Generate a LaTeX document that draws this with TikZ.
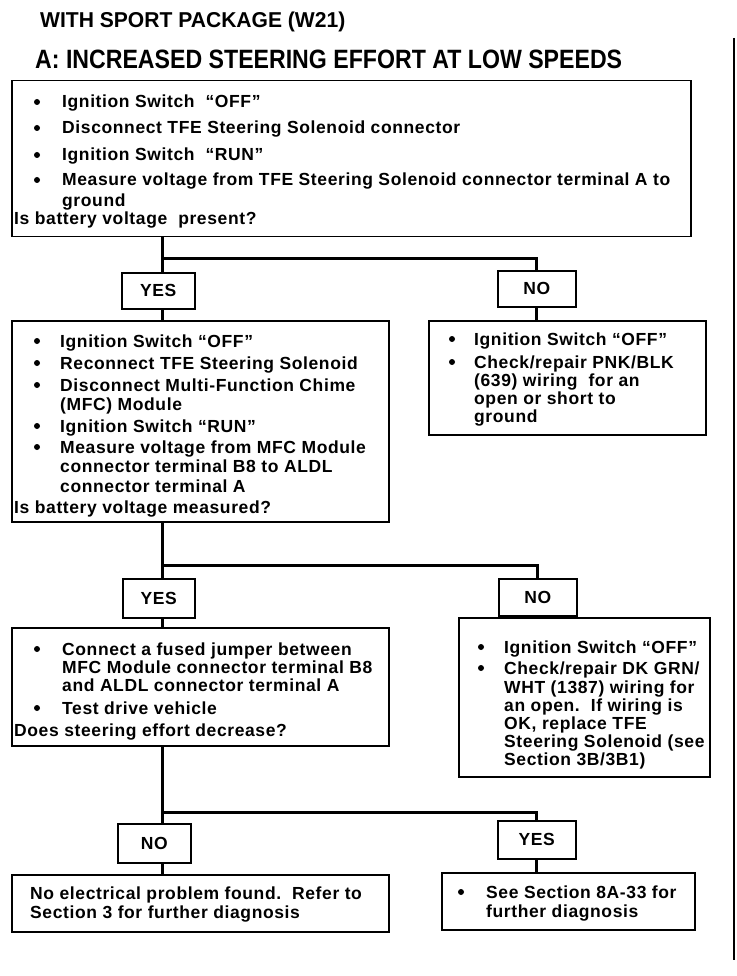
\documentclass[tikz,border=0pt]{standalone}
\usepackage{fontspec}
\setmainfont{Liberation Sans}
\newfontfamily\bodyfam[LetterSpace=3.5]{Liberation Sans}
\newcommand\bodyf{\bodyfam\bfseries\fontsize{17.5}{20}\selectfont}
\newcommand\titlef{\bfseries\fontsize{21.5}{24}\selectfont}
\newcommand\titlefb{\bfseries\fontsize{26.5}{28}\selectfont}
\tikzset{
  box/.style={draw, line width=1.5pt, inner sep=0pt, anchor=north west},
  lbl/.style={draw, line width=1.5pt, inner sep=0pt, anchor=north west, font=\bodyf},
  tx/.style={anchor=base west, inner sep=0pt, font=\bodyf},
  bul/.style={circle, fill, inner sep=0pt, minimum size=6pt},
  conn/.style={line width=3pt},
}
\begin{document}
\begin{tikzpicture}[x=1pt,y=-1pt]
\useasboundingbox (0,0) rectangle (736,976);
% titles
\node[anchor=base west, inner sep=0pt, font=\titlef] (t1) at (40,28) {\scalebox{0.98}[1]{WITH SPORT PACKAGE (W21)}};
\node[anchor=base west, inner sep=0pt, font=\titlefb] (t2) at (35,69) {\scalebox{0.873}[1]{A: INCREASED STEERING EFFORT AT LOW SPEEDS}};
% boxes
\node[box, minimum width=679pt, minimum height=156pt] (b1) at (11,80) {};
\node[lbl, minimum width=73pt, minimum height=36pt] (yes1) at (121,272) {YES};
\node[lbl, minimum width=78pt, minimum height=36pt] (no1) at (497,270) {NO};
\node[box, minimum width=377pt, minimum height=201pt] (b2) at (11,320) {};
\node[box, minimum width=277pt, minimum height=114pt] (b3) at (428,320) {};
\node[lbl, minimum width=72pt, minimum height=39pt] (yes2) at (122,578) {YES};
\node[lbl, minimum width=78pt, minimum height=37pt] (no2) at (498,578) {NO};
\node[box, minimum width=377pt, minimum height=118pt] (b4) at (11,627) {};
\node[box, minimum width=251pt, minimum height=159pt] (b5) at (458,617) {};
\node[lbl, minimum width=73pt, minimum height=39pt] (no3) at (117,823) {NO};
\node[lbl, minimum width=78pt, minimum height=38pt] (yes3) at (497,820) {YES};
\node[box, minimum width=377pt, minimum height=57pt] (b6) at (11,874) {};
\node[box, minimum width=253pt, minimum height=57pt] (b7) at (441,872) {};
% connectors
\coordinate (j1) at (162,258);
\coordinate (j2) at (162,565);
\coordinate (j3) at (162,812);
\draw[conn] (j1 |- b1.south) -- (j1 |- yes1.north);
\draw[conn] (j1) -| (no1.north);
\draw[conn] (j1 |- yes1.south) -- (j1 |- b2.north);
\draw[conn] (no1.south) -- (no1.south |- b3.north);
\draw[conn] (j2 |- b2.south) -- (j2 |- yes2.north);
\draw[conn] (j2) -| (no2.north);
\draw[conn] (j2 |- yes2.south) -- (j2 |- b4.north);
\draw[conn] (no2.south) -- (no2.south |- b5.north);
\draw[conn] (j3 |- b4.south) -- (j3 |- no3.north);
\draw[conn] (j3) -| (yes3.north);
\draw[conn] (j3 |- no3.south) -- (j3 |- b6.north);
\draw[conn] (yes3.south) -- (yes3.south |- b7.north);
% page edge
\coordinate (e1) at (734,38);
\coordinate (e2) at (734,960);
\draw[line width=2pt] (e1) -- (e2);
% box 1 text
\node[bul] (p1) at (37,102) {};
\node[tx] (a1) at (62,108) {Ignition Switch\ \ “OFF”};
\node[bul] (p2) at (37,128) {};
\node[tx] (a2) at (62,134) {Disconnect TFE Steering Solenoid connector};
\node[bul] (p3) at (37,155) {};
\node[tx] (a3) at (62,161) {Ignition Switch\ \ “RUN”};
\node[bul] (p4) at (37,180) {};
\node[tx] (a4) at (62,186) {Measure voltage from TFE Steering Solenoid connector terminal A to};
\node[tx] (a5) at (62,207) {ground};
\node[tx] (a6) at (14,225) {Is battery voltage\ \ present?};
% box 2 text
\node[bul] (q1) at (37,341) {};
\node[tx] (c1) at (60,347) {Ignition Switch “OFF”};
\node[bul] (q2) at (37,363) {};
\node[tx] (c2) at (60,369) {Reconnect TFE Steering Solenoid};
\node[bul] (q3) at (37,385) {};
\node[tx] (c3) at (60,391) {Disconnect Multi-Function Chime};
\node[tx] (c4) at (60,410) {(MFC) Module};
\node[bul] (q4) at (37,426) {};
\node[tx] (c5) at (60,432) {Ignition Switch “RUN”};
\node[bul] (q5) at (37,447) {};
\node[tx] (c6) at (60,453) {Measure voltage from MFC Module};
\node[tx] (c7) at (60,472) {connector terminal B8 to ALDL};
\node[tx] (c8) at (60,492) {connector terminal A};
\node[tx] (c9) at (14,513) {Is battery voltage measured?};
% box 3 text
\node[bul] (r1) at (452,339) {};
\node[tx] (d1) at (474,345) {Ignition Switch “OFF”};
\node[bul] (r2) at (452,362) {};
\node[tx] (d2) at (474,368) {Check/repair PNK/BLK};
\node[tx] (d3) at (474,386) {(639) wiring\ \ for an};
\node[tx] (d4) at (474,404) {open or short to};
\node[tx] (d5) at (474,422) {ground};
% box 4 text
\node[bul] (s1) at (37,649) {};
\node[tx] (e4a) at (62,655) {Connect a fused jumper between};
\node[tx] (e4b) at (62,673) {MFC Module connector terminal B8};
\node[tx] (e4c) at (62,691) {and ALDL connector terminal A};
\node[bul] (s2) at (37,708) {};
\node[tx] (e4d) at (62,714) {Test drive vehicle};
\node[tx] (e4e) at (14,736) {Does steering effort decrease?};
% box 5 text
\node[bul] (u1) at (481,647) {};
\node[tx] (f1) at (504,653) {Ignition Switch “OFF”};
\node[bul] (u2) at (481,668) {};
\node[tx] (f2) at (504,674) {Check/repair DK GRN/};
\node[tx] (f3) at (504,693) {WHT (1387) wiring for};
\node[tx] (f4) at (504,711) {an open.\ \ If wiring is};
\node[tx] (f5) at (504,729) {OK, replace TFE};
\node[tx] (f6) at (504,747) {Steering Solenoid (see};
\node[tx] (f7) at (504,765) {Section 3B/3B1)};
% box 6 text
\node[tx] (g1) at (30,899) {No electrical problem found.\ \ Refer to};
\node[tx] (g2) at (30,918) {Section 3 for further diagnosis};
% box 7 text
\node[bul] (v1) at (461,892) {};
\node[tx] (h1) at (486,898) {See Section 8A-33 for};
\node[tx] (h2) at (486,917) {further diagnosis};
\end{tikzpicture}
\end{document}
